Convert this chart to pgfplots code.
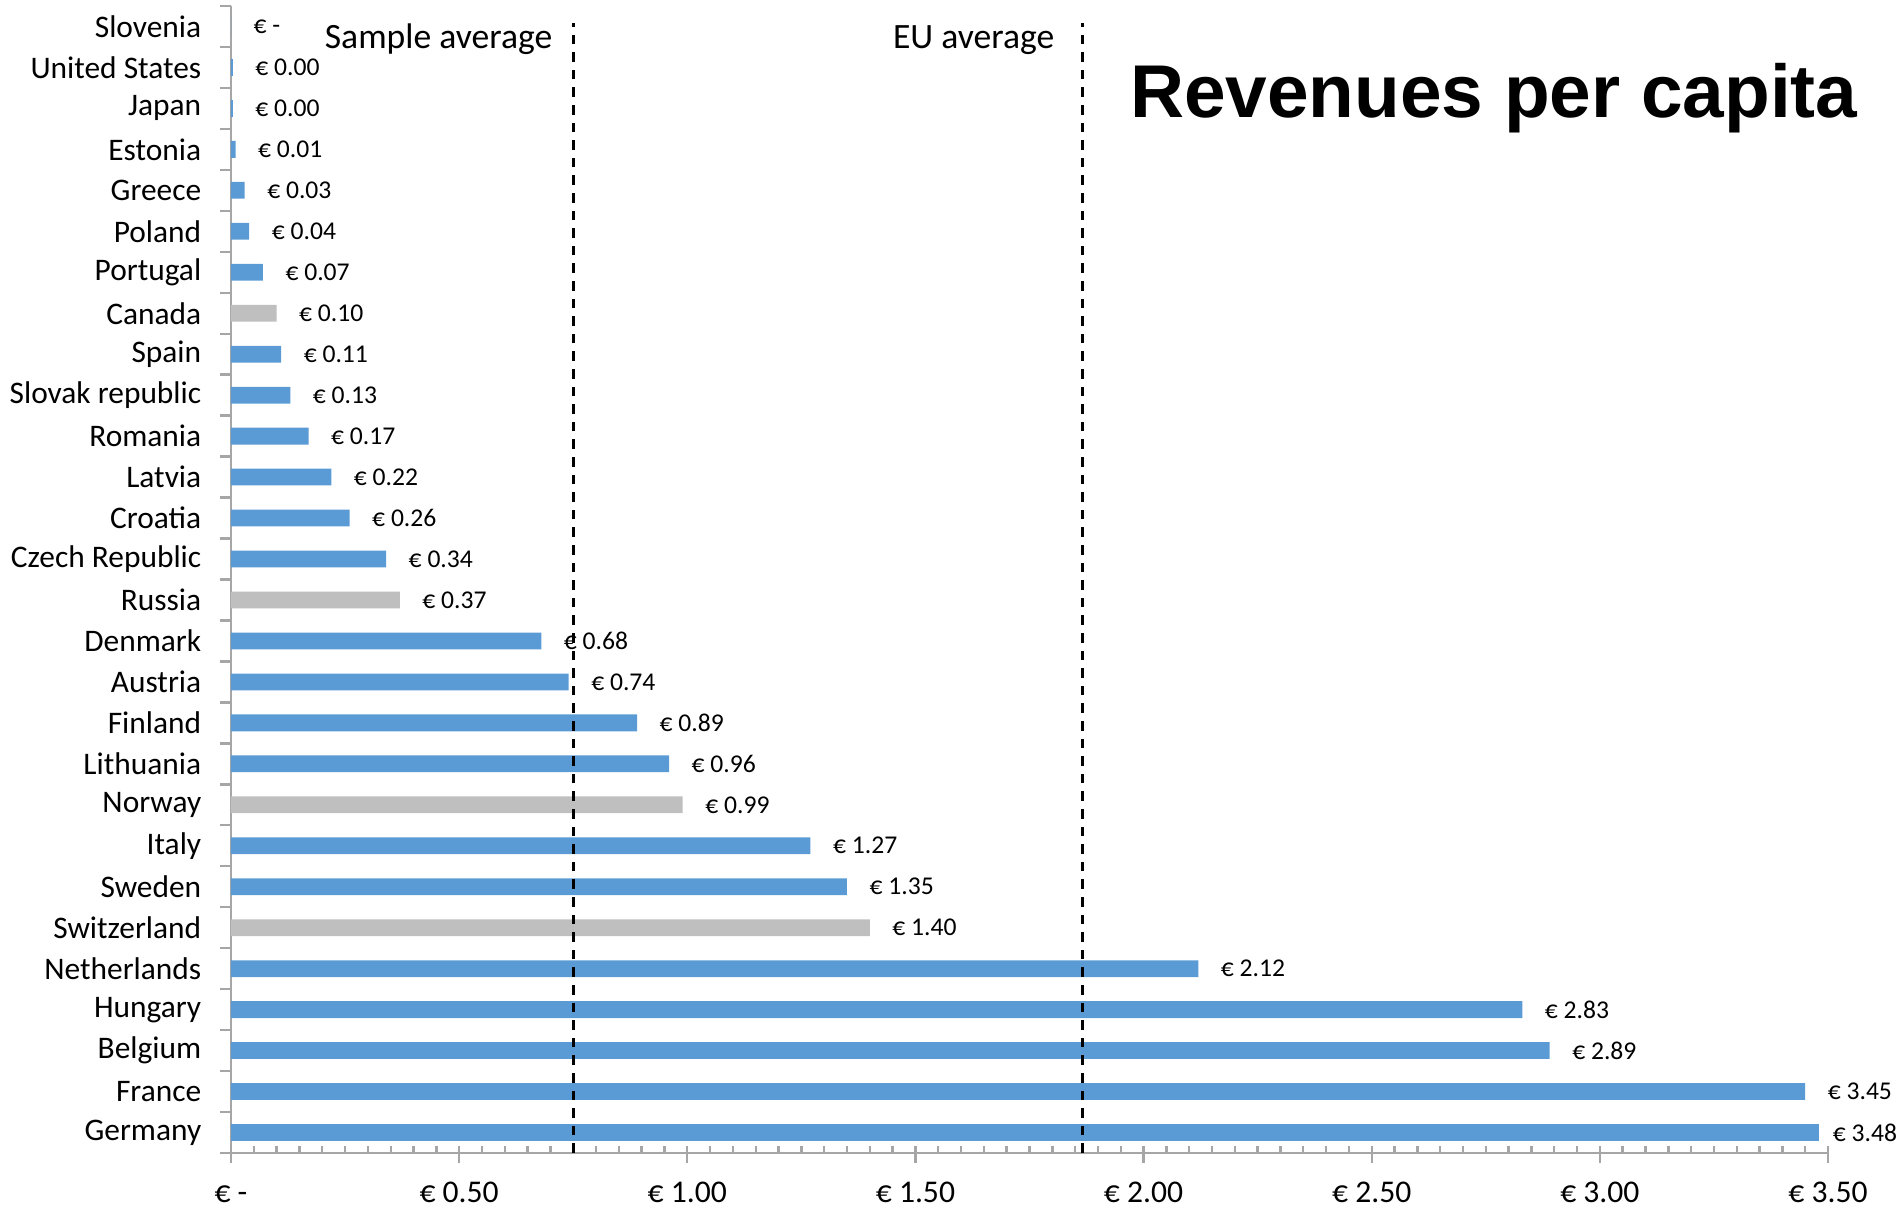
\documentclass[border=0pt]{standalone}
\usepackage{pgfplots}
\pgfplotsset{compat=1.18}
\usepackage{fontspec}
\setmainfont{Carlito}
\newfontfamily\titlefont{Liberation Sans}
\definecolor{barblue}{HTML}{5B9BD5}
\definecolor{bargray}{HTML}{BFBFBF}
\definecolor{axgray}{HTML}{A6A6A6}

% y index: 0 = Germany (bottom) ... 27 = Slovenia (top)
\pgfplotstableread{
y x
1 3.45
2 2.89
3 2.83
4 2.12
6 1.35
7 1.27
9 0.96
10 0.89
11 0.74
12 0.68
14 0.34
15 0.26
16 0.22
17 0.17
18 0.13
19 0.11
21 0.07
22 0.04
23 0.03
24 0.01
25 0.004
26 0.004
}\bluedata
\pgfplotstableread{
y x
0 3.48
}\germanydata
\pgfplotstableread{
y x
5 1.40
8 0.99
13 0.37
20 0.10
}\graydata
\pgfplotstableread{
y x
27 0
}\sloveniadata

\begin{document}
\begin{tikzpicture}
\begin{axis}[
  scale only axis,
  width=399.25pt, height=286.75pt,
  xmin=0, xmax=3.5, ymin=-0.5, ymax=27.5,
  clip=false,
  axis x line*=bottom, axis y line*=left,
  axis line style={axgray, line width=0.6pt},
  tick align=outside,
  major tick length=4.25pt,
  minor tick length=1.75pt,
  xtick={0,0.5,1,1.5,2,2.5,3,3.5},
  xticklabels={€ -, € 0.50, € 1.00, € 1.50, € 2.00, € 2.50, € 3.00, € 3.50},
  minor x tick num=9,
  major x tick style={axgray, line width=0.6pt, yshift=1.75pt},
  minor x tick style={axgray, line width=0.6pt, yshift=1.75pt},
  xticklabel style={font=\fontsize{7.9}{9}\selectfont, text=black, anchor=base, yshift=-8pt},
  ytick={0,...,27},
  yticklabels={Germany, France, Belgium, Hungary, Netherlands, Switzerland, Sweden, Italy, Norway, Lithuania, Finland, Austria, Denmark, Russia, Czech Republic, Croatia, Latvia, Romania, Slovak republic, Spain, Canada, Portugal, Poland, Greece, Estonia, Japan, United States, Slovenia},
  y tick style={draw=none},
  yticklabel style={font=\fontsize{7.85}{9}\selectfont, text=black, anchor=east, inner sep=0pt, xshift=-3pt},
  extra y ticks={-0.5,0.5,1.5,2.5,3.5,4.5,5.5,6.5,7.5,8.5,9.5,10.5,11.5,12.5,13.5,14.5,15.5,16.5,17.5,18.5,19.5,20.5,21.5,22.5,23.5,24.5,25.5,26.5,27.5},
  extra y tick labels={},
  extra y tick style={y tick style={draw=axgray, line width=0.6pt}, major tick length=2.75pt},
  bar width=0.41,
  every node near coord/.append style={anchor=west, inner sep=0pt, xshift=5.45pt, text=black, font=\fontsize{6.4}{7}\selectfont},
]
\addplot[xbar, bar shift=0pt, fill=barblue, draw=none, point meta=x,
  nodes near coords={€ \pgfmathprintnumber[fixed,fixed zerofill,precision=2,assume math mode=true]{\pgfplotspointmeta}}]
  table[x=x, y=y] {\bluedata};
\addplot[xbar, bar shift=0pt, fill=bargray, draw=none, point meta=x,
  nodes near coords={€ \pgfmathprintnumber[fixed,fixed zerofill,precision=2,assume math mode=true]{\pgfplotspointmeta}}]
  table[x=x, y=y] {\graydata};
\addplot[xbar, bar shift=0pt, fill=barblue, draw=none, point meta=x,
  every node near coord/.append style={xshift=-2.15pt},
  nodes near coords={€ \pgfmathprintnumber[fixed,fixed zerofill,precision=2,assume math mode=true]{\pgfplotspointmeta}}]
  table[x=x, y=y] {\germanydata};
\addplot[xbar, bar shift=0pt, fill=barblue, draw=none, point meta=x,
  nodes near coords={€ -}]
  table[x=x, y=y] {\sloveniadata};
% averages
\addplot[black, line width=0.7pt, dash pattern=on 2.4pt off 2pt] coordinates {(0.75,-0.5) (0.75,27.09)};
\addplot[black, line width=0.7pt, dash pattern=on 2.4pt off 2pt] coordinates {(1.867,-0.5) (1.867,27.09)};
\node[anchor=base east, inner sep=0pt, font=\fontsize{8.9}{10}\selectfont] at (axis cs:0.7057,26.467) {Sample average};
\node[anchor=base east, inner sep=0pt, font=\fontsize{8.9}{10}\selectfont] at (axis cs:1.8059,26.467) {EU average};
\node[anchor=base, inner sep=0pt, font=\titlefont\bfseries\fontsize{18.7}{20}\selectfont] at (axis cs:2.7675,24.78) {Revenues per capita};
\coordinate (bl) at (rel axis cs:0,0);
\coordinate (tr) at (rel axis cs:1,1);
\end{axis}
\pgfresetboundingbox
\path ([xshift=-57.75pt,yshift=-13.5pt]bl) rectangle ([xshift=17.75pt,yshift=1.5pt]tr);
\end{tikzpicture}
\end{document}
